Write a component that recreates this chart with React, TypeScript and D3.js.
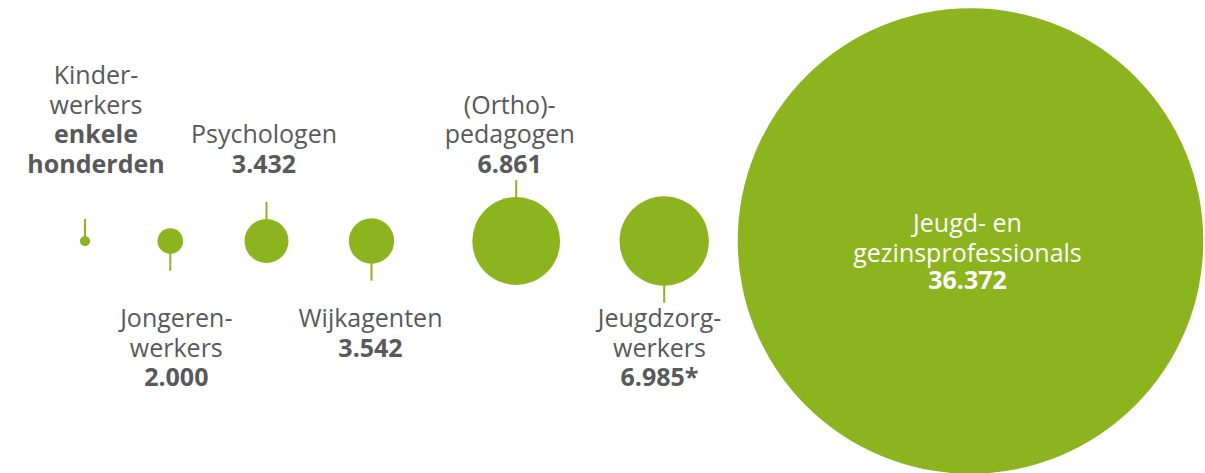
import React from "react";
import * as d3 from "d3";

const categories = ["Kinderwerkers", "Jongerenwerkers", "Psychologen", "Wijkagenten", "(Ortho)pedagogen", "Jeugdzorgwerkers", "Jeugd- en gezinsprofessionals"];
const values = [800, 2000, 3432, 3542, 6861, 6985, 36372];
const nameLines = [["Kinder-", "werkers"], ["Jongeren-", "werkers"], ["Psychologen"], ["Wijkagenten"], ["(Ortho)-", "pedagogen"], ["Jeugdzorg-", "werkers"], ["Jeugd- en", "gezinsprofessionals"]];
const valueLines = [["enkele", "honderden"], ["2.000"], ["3.432"], ["3.542"], ["6.861"], ["6.985*"], ["36.372"]];

// layout (not data)
const W = 1205, H = 473;
const CY = 241;
const cxs = [85, 170.3, 266.5, 371.5, 516.2, 664.2, 970.5];
const labelDx = [11, 6, -2.5, -1, -6.5, -4.7, -3];
const sides = ["up", "down", "up", "down", "up", "down", "inside"];
const GREEN = "#8BB41E";
const GREY = "#58595B";
const FONT = "'Open Sans', 'Noto Sans', sans-serif";
const FS = 25;
const LH = 29.6;
const STEM = 17;
const TOP_LAST_BASE = 173;
const BOTTOM_FIRST_BASE = 327;

export default function App() {
  const r = d3.scaleLinear().domain([0, d3.max(values) as number]).range([0, 232.8]);
  return (
    <svg width={W} height={H} style={{ position: "absolute", left: 0, top: 0, display: "block" }} fontFamily={FONT}>
      {categories.map((c, i) => {
        const cx = cxs[i];
        const rad = r(values[i]);
        const side = sides[i];
        const lines = [
          ...nameLines[i].map((t) => ({ t, bold: false })),
          ...valueLines[i].map((t) => ({ t, bold: true })),
        ];
        const lx = cx + labelDx[i];
        let stem = null;
        let textEls;
        if (side === "up") {
          const y0 = CY - rad;
          stem = <line x1={cx} x2={cx} y1={y0 + 1} y2={y0 - STEM} stroke={GREEN} strokeWidth={2} />;
          textEls = lines.map((l, k) => (
            <text key={k} x={lx} y={TOP_LAST_BASE - (lines.length - 1 - k) * LH} textAnchor="middle" fontSize={FS} fontWeight={l.bold ? 700 : 400} fill={GREY}>{l.t}</text>
          ));
        } else if (side === "down") {
          const y0 = CY + rad;
          stem = <line x1={cx} x2={cx} y1={y0 - 1} y2={y0 + STEM} stroke={GREEN} strokeWidth={2} />;
          textEls = lines.map((l, k) => (
            <text key={k} x={lx} y={BOTTOM_FIRST_BASE + k * LH} textAnchor="middle" fontSize={FS} fontWeight={l.bold ? 700 : 400} fill={GREY}>{l.t}</text>
          ));
        } else {
          const bases = [231.5, 261.5, 289];
          textEls = lines.map((l, k) => (
            <text key={k} x={lx} y={bases[k]} textAnchor="middle" fontSize={FS} fontWeight={l.bold ? 700 : 400} fill="#FFFFFF">{l.t}</text>
          ));
        }
        return (
          <g key={c}>
            {stem}
            <circle cx={cx} cy={CY} r={rad} fill={GREEN} />
            {textEls}
          </g>
        );
      })}
    </svg>
  );
}
